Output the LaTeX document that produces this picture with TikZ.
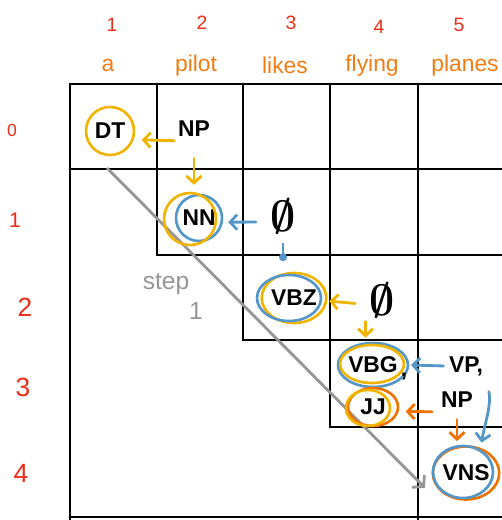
\documentclass[tikz,border=0pt]{standalone}
\usepackage{fontspec}
\setmainfont{Liberation Sans}
\usetikzlibrary{arrows.meta,shapes.geometric}
\definecolor{lblred}{RGB}{235,45,25}
\definecolor{wordorange}{RGB}{240,125,20}
\definecolor{ringgold}{RGB}{240,180,0}
\definecolor{ringblue}{RGB}{85,150,200}
\definecolor{ringorange}{RGB}{240,115,0}
\definecolor{stepgray}{RGB}{150,150,150}
\tikzset{
  gridline/.style={
    line width=1.6pt,
    line cap=round
  },
  tag/.style={
    font=\fontsize{13}{15}\selectfont\bfseries,
    inner sep=2pt
  },
  emptytag/.style={
    font=\fontsize{24.88}{28}\selectfont\boldmath,
    inner sep=2pt
  },
  ringline/.style={
    line width=1.5pt
  },
  goldring/.style={ringline, draw=ringgold},
  bluering/.style={ringline, draw=ringblue},
  orangering/.style={ringline, draw=ringorange},
  chartarrow/.style={
    line width=1.6pt,
    line cap=round,
    -{Straight Barb[length=4pt,width=8.5pt]}
  },
  goldarrow/.style={chartarrow, ringgold},
  bluearrow/.style={chartarrow, ringblue},
  orangearrow/.style={chartarrow, ringorange},
  steparrow/.style={
    line width=1.6pt,
    stepgray,
    -{Straight Barb[length=4.5pt,width=10pt]}
  },
  steptext/.style={
    font=\fontsize{14}{16}\selectfont,
    text=stepgray,
    inner sep=1pt
  },
  rowlbl/.style={
    font=\fontsize{15}{17}\selectfont,
    text=lblred,
    inner sep=1pt
  },
  collbl/.style={
    font=\fontsize{11}{13}\selectfont,
    text=lblred,
    inner sep=1pt
  },
  word/.style={
    font=\fontsize{13}{15}\selectfont,
    text=wordorange,
    inner sep=1pt
  }
}
\begin{document}
\begin{tikzpicture}[x=0.02cm, y=-0.02cm]
  \useasboundingbox (0,0) rectangle (501,520);

  % chart grid
  \draw[gridline] (70,520) -- (70,84) -- (505,84);
  \draw[gridline] (70,169) -- (505,169);
  \draw[gridline] (157,84) -- (157,255) -- (505,255);
  \draw[gridline] (243,84) -- (243,340) -- (505,340);
  \draw[gridline] (330,84) -- (330,427) -- (505,427);
  \draw[gridline] (418,84) -- (418,525);
  \draw[gridline] (70,517) -- (505,517);

  % column and row labels
  \node[collbl] (c1) at (112,25) {1};
  \node[collbl] (c2) at (202,23) {2};
  \node[collbl] (c3) at (291,23) {3};
  \node[collbl] (c4) at (379,27) {4};
  \node[collbl] (c5) at (459,25) {5};
  \node[word] (w1) at (108,65) {a};
  \node[word] (w2) at (196,66) {pilot};
  \node[word] (w3) at (285,65) {likes};
  \node[word] (w4) at (372,66) {flying};
  \node[word] (w5) at (465,66) {planes};
  \node[rowlbl, font=\fontsize{10}{12}\selectfont] (r0) at (12,130) {0};
  \node[rowlbl, font=\fontsize{12}{14}\selectfont] (r1) at (15,220) {1};
  \node[rowlbl] (r2) at (25,307) {2};
  \node[rowlbl] (r3) at (23,387) {3};
  \node[rowlbl] (r4) at (21,473) {4};

  % step
  \coordinate (stepstart) at (107,168);
  \coordinate (stepend) at (425,488);
  \draw[steparrow] (stepstart) -- (stepend);
  \node[steptext] (steplbl) at (166,284) {step};
  \node[steptext] (stepnum) at (196,311) {1};

  % tags
  \node[tag, circle, goldring, minimum size=0.96cm] (DT) at (110,131) {DT};
  \node[tag] (NPa) at (194,129) {NP};
  \node[tag, circle, bluering, minimum size=0.92cm] (NN) at (199,218) {NN};
  \draw[goldring] ([shift={(-9,1)}]NN.center) circle (26);
  \node[emptytag] (phiA) at (283,216) {$\emptyset$};
  \node[tag, ellipse, inner sep=0pt, goldring, minimum width=1.28cm, minimum height=1.0cm] (VBZ) at (294,298) {VBZ};
  \draw[bluering] ([shift={(-5,0)}]VBZ.center) ellipse (32 and 23);
  \node[emptytag] (phiB) at (382,300) {$\emptyset$};
  \node[tag, ellipse, inner sep=0pt, bluering, minimum width=1.38cm, minimum height=0.88cm] (VBG) at (373,365) {VBG};
  \draw[goldring] ([shift={(-1,-1)}]VBG.center) ellipse (32 and 19);
  \node[tag] (comma) at (404,377) {,};
  \node[tag, ellipse, inner sep=0pt, orangering, minimum width=1.0cm, minimum height=0.76cm] (JJ) at (373,407) {JJ};
  \draw[goldring] ([shift={(-5,1)}]JJ.center) ellipse (22 and 18);
  \node[tag] (VP) at (466,366) {VP,};
  \node[tag] (NPb) at (457,400) {NP};
  \node[tag, ellipse, inner sep=0pt, orangering, minimum width=1.1cm, minimum height=1.06cm] (VNS) at (466,473) {VNS};
  \draw[bluering] ([shift={(-3,-1)}]VNS.center) ellipse (30 and 26);

  % back pointers
  \draw[goldarrow, shorten >=4.5pt] (NPa.south west) -- (DT.-20);
  \draw[goldarrow, shorten <=10pt, shorten >=5pt] (NPa.south) -- (NPa.south |- NN.north);
  \draw[bluearrow, shorten <=6pt, shorten >=3pt] (phiA.-160) -- (NN.-10);
  \draw[ringblue, line width=1.6pt, shorten <=3.4pt, shorten >=6pt, -{Circle[length=4.5pt]}] (phiA.south) -- (phiA.south |- VBZ.north);
  \draw[goldarrow, shorten <=6pt, shorten >=1pt] (phiB.-165) -- (VBZ.-5);
  \draw[goldarrow, shorten >=2.3pt] (phiB.south west) -- (phiB.south west |- VBG.north);
  \draw[bluearrow, shorten <=1pt, shorten >=1pt] (VP.west) -- (VBG.east);
  \draw[orangearrow, shorten <=3pt, shorten >=4pt] (NPb.south west) -- (JJ.-10);
  \draw[orangearrow, shorten <=4.5pt, shorten >=2.3pt] (NPb.south) -- (NPb.south |- VNS.north);
  \draw[bluearrow, shorten <=7pt, shorten >=3pt] (VP.south east) to[out=-80, in=80] (VNS.60);
\end{tikzpicture}
\end{document}
